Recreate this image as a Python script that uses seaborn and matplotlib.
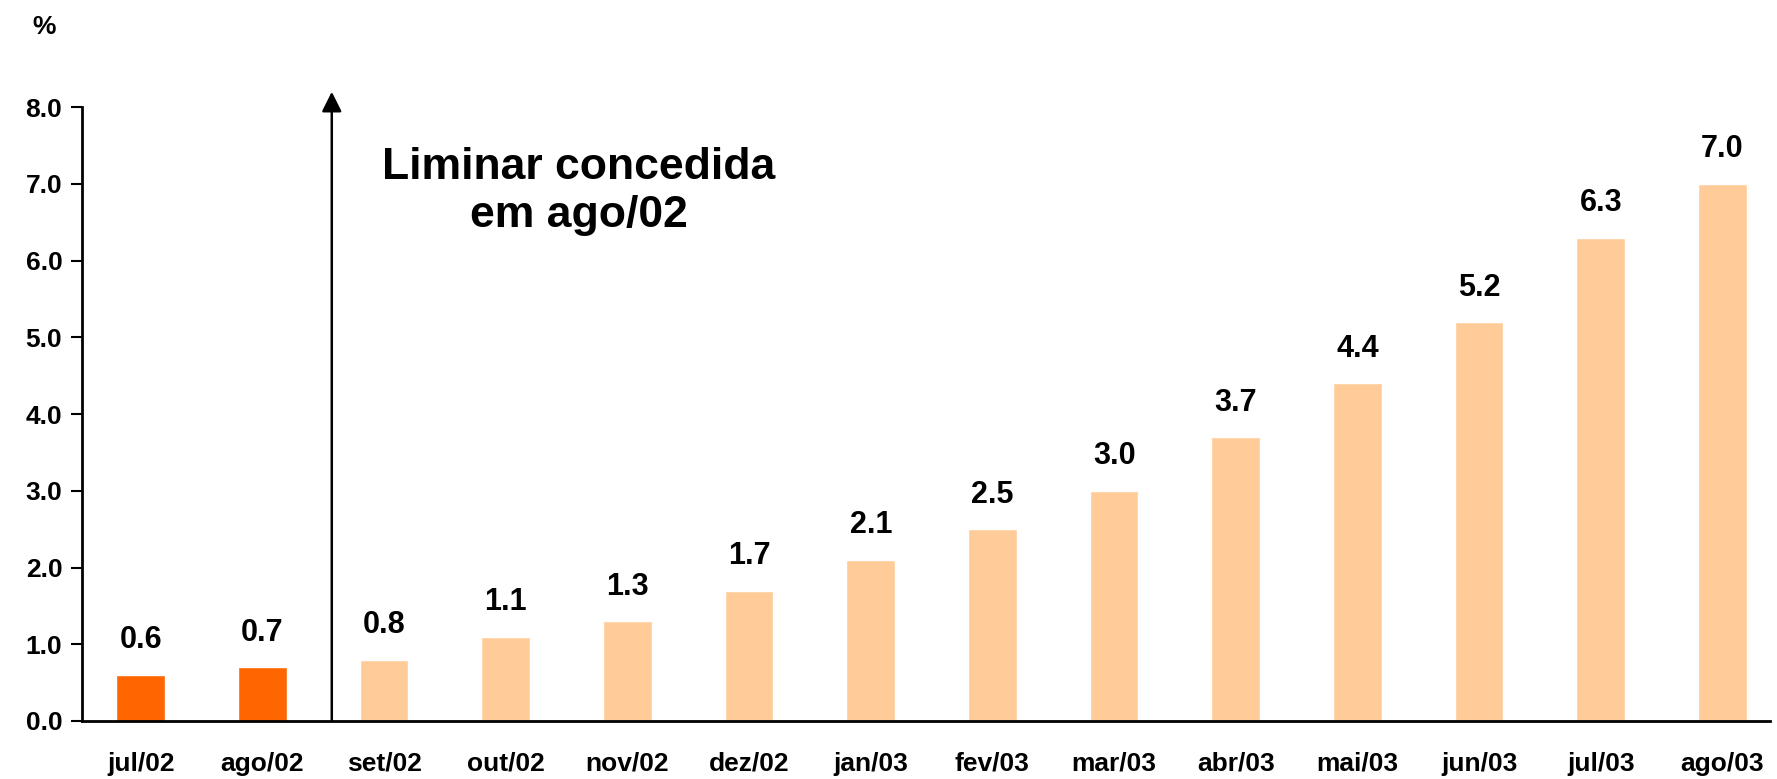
import pandas as pd
import matplotlib.pyplot as plt
import seaborn as sns
from matplotlib import font_manager

# data
months = ['jul/02', 'ago/02', 'set/02', 'out/02', 'nov/02', 'dez/02', 'jan/03',
          'fev/03', 'mar/03', 'abr/03', 'mai/03', 'jun/03', 'jul/03', 'ago/03']
values = [0.6, 0.7, 0.8, 1.1, 1.3, 1.7, 2.1, 2.5, 3.0, 3.7, 4.4, 5.2, 6.3, 7.0]
period = ['antes'] * 2 + ['depois'] * 12
y_ticks = [0, 1, 2, 3, 4, 5, 6, 7, 8]

df = pd.DataFrame({'mes': months, 'valor': values, 'periodo': period})

sns.set_style('white')
names = {f.name for f in font_manager.fontManager.ttflist}
narrow = 'Liberation Sans Narrow' if 'Liberation Sans Narrow' in names else 'Liberation Sans'
plt.rcParams['font.family'] = ['Liberation Sans', 'DejaVu Sans']
plt.rcParams['text.color'] = 'black'
plt.rcParams['xtick.color'] = 'black'
plt.rcParams['ytick.color'] = 'black'

fig = plt.figure(figsize=(17.77, 7.79), dpi=100)
ax = fig.add_axes([0.046, 0.0745, 0.95, 0.788])

sns.barplot(data=df, x='mes', y='valor', hue='periodo',
            palette={'antes': '#FF6600', 'depois': '#FFCC99'},
            dodge=False, width=0.4, legend=False, saturation=1, ax=ax)

for c in ax.containers:
    ax.bar_label(c, fmt='%.1f', padding=14, fontsize=22, fontweight='bold',
                 color='black')

ax.set_ylim(0, 8)
ax.set_xlim(-0.485, 13.39)
ax.set_yticks(y_ticks)
ax.set_yticklabels([f'{v:.1f}' for v in y_ticks], family=narrow,
                   fontsize=19, fontweight='bold')
ax.set_xticks(range(len(months)))
ax.set_xticklabels(months, family=narrow, fontsize=19, fontweight='bold')
ax.set_xlabel('')
ax.set_ylabel('')

ax.tick_params(axis='y', length=8, width=1.5, direction='out', left=True, pad=6)
ax.tick_params(axis='x', length=0, pad=22)

sns.despine(ax=ax)
for s in ['left', 'bottom']:
    ax.spines[s].set_color('black')
    ax.spines[s].set_linewidth(2)

# arrow marking the injunction
ax.annotate('', xy=(1.57, 8.2), xytext=(1.57, 0), annotation_clip=False,
            arrowprops=dict(arrowstyle='-|>', color='black', lw=1.8,
                            mutation_scale=30, shrinkA=0, shrinkB=0))
ax.text(3.6, 6.9, 'Liminar concedida\nem ago/02', ha='center', va='center',
        fontsize=32, fontweight='bold', linespacing=1.2, color='black')

fig.text(0.025, 0.965, '%', fontsize=19, fontweight='bold', family=narrow,
         ha='center', va='center', color='black')

fig.savefig('out.png', dpi=100)
